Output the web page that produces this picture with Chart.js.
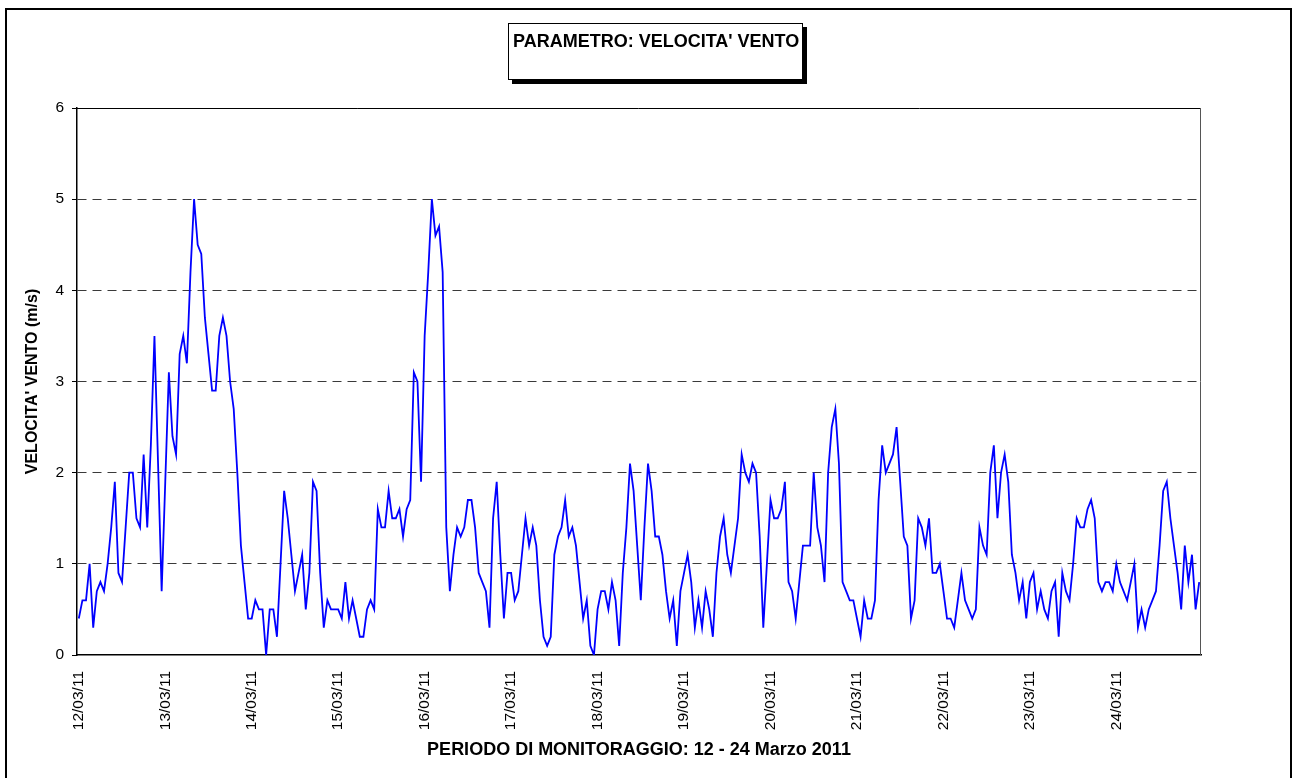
<!DOCTYPE html>
<html>
<head>
<meta charset="utf-8">
<script src="https://cdn.jsdelivr.net/npm/chart.js@4/dist/chart.umd.min.js"></script>
<style>
  html, body { margin: 0; padding: 0; background: #fff; }
  #wrap { position: relative; width: 1308px; height: 778px; overflow: hidden; }
  #frame { position: absolute; left: 5px; top: 8px; width: 1287px; height: 820px; border: 2px solid #000; box-sizing: border-box; }
  #c { position: absolute; left: 0; top: 0; }
  #titlebox { position: absolute; left: 508px; top: 23px; width: 295px; height: 57px; box-sizing: border-box;
    border: 1px solid #000; background: #fff; box-shadow: 4px 4px 0 #000;
    font: bold 18px "Liberation Sans", Arial, sans-serif; color: #000; padding: 7px 0 0 4px; white-space: nowrap; }
</style>
</head>
<body>
<div id="wrap">
  <div id="frame"></div>
  <canvas id="c" width="1308" height="778"></canvas>
  <div id="titlebox">PARAMETRO: VELOCITA' VENTO</div>
</div>
<script>
const dayLabels = ['12/03/11','13/03/11','14/03/11','15/03/11','16/03/11','17/03/11','18/03/11',
                   '19/03/11','20/03/11','21/03/11','22/03/11','23/03/11','24/03/11'];
const hours = ['00','01','02','03','04','05','06','07','08','09','10','11',
               '12','13','14','15','16','17','18','19','20','21','22','23'];
// hourly wind speed (m/s), one row per day
const windSpeed = [
  0.4,0.6,0.6,1.0,0.3,0.7,0.8,0.7,1.0,1.4,1.9,0.9,0.8,1.4,2.0,2.0,1.5,1.4,2.2,1.4,2.3,3.5,2.1,0.7,
  1.9,3.1,2.4,2.2,3.3,3.5,3.2,4.2,5.0,4.5,4.4,3.7,3.3,2.9,2.9,3.5,3.7,3.5,3.0,2.7,2.0,1.2,0.8,0.4,
  0.4,0.6,0.5,0.5,0.0,0.5,0.5,0.2,1.0,1.8,1.5,1.1,0.7,0.9,1.1,0.5,0.9,1.9,1.8,0.9,0.3,0.6,0.5,0.5,
  0.5,0.4,0.8,0.4,0.6,0.4,0.2,0.2,0.5,0.6,0.5,1.6,1.4,1.4,1.8,1.5,1.5,1.6,1.3,1.6,1.7,3.1,3.0,1.9,
  3.5,4.2,5.0,4.6,4.7,4.2,1.4,0.7,1.1,1.4,1.3,1.4,1.7,1.7,1.4,0.9,0.8,0.7,0.3,1.5,1.9,1.1,0.4,0.9,
  0.9,0.6,0.7,1.1,1.5,1.2,1.4,1.2,0.6,0.2,0.1,0.2,1.1,1.3,1.4,1.7,1.3,1.4,1.2,0.8,0.4,0.6,0.1,0.0,
  0.5,0.7,0.7,0.5,0.8,0.6,0.1,0.9,1.4,2.1,1.8,1.2,0.6,1.4,2.1,1.8,1.3,1.3,1.1,0.7,0.4,0.6,0.1,0.7,
  0.9,1.1,0.8,0.3,0.6,0.3,0.7,0.5,0.2,0.9,1.3,1.5,1.1,0.9,1.2,1.5,2.2,2.0,1.9,2.1,2.0,1.3,0.3,1.0,
  1.7,1.5,1.5,1.6,1.9,0.8,0.7,0.4,0.8,1.2,1.2,1.2,2.0,1.4,1.2,0.8,2.0,2.5,2.7,2.1,0.8,0.7,0.6,0.6,
  0.4,0.2,0.6,0.4,0.4,0.6,1.7,2.3,2.0,2.1,2.2,2.5,1.9,1.3,1.2,0.4,0.6,1.5,1.4,1.2,1.5,0.9,0.9,1.0,
  0.7,0.4,0.4,0.3,0.6,0.9,0.6,0.5,0.4,0.5,1.4,1.2,1.1,2.0,2.3,1.5,2.0,2.2,1.9,1.1,0.9,0.6,0.8,0.4,
  0.8,0.9,0.5,0.7,0.5,0.4,0.7,0.8,0.2,0.9,0.7,0.6,1.0,1.5,1.4,1.4,1.6,1.7,1.5,0.8,0.7,0.8,0.8,0.7,
  1.0,0.8,0.7,0.6,0.8,1.0,0.3,0.5,0.3,0.5,0.6,0.7,1.2,1.8,1.9,1.5,1.2,0.9,0.5,1.2,0.8,1.1,0.5,0.8
];
const yTicks = [0, 1, 2, 3, 4, 5, 6];
const chartTitle = "PARAMETRO: VELOCITA' VENTO";
const xTitle = 'PERIODO DI MONITORAGGIO: 12 - 24 Marzo 2011';
const yTitle = "VELOCITA' VENTO (m/s)";

const categories = dayLabels.flatMap(d => hours.map(h => d + ' ' + h));
const FONT = '"Liberation Sans", Arial, sans-serif';

const plotBorder = {
  id: 'plotBorder',
  afterDraw(chart) {
    const a = chart.chartArea, ctx = chart.ctx;
    ctx.save();
    ctx.strokeStyle = '#000';
    ctx.lineWidth = 1;
    ctx.beginPath();
    ctx.moveTo(a.left, a.top + 0.5);
    ctx.lineTo(a.right - 0.5, a.top + 0.5);
    ctx.stroke();
    ctx.strokeStyle = '#555';
    ctx.beginPath();
    ctx.moveTo(a.right - 0.5, a.top);
    ctx.lineTo(a.right - 0.5, a.bottom);
    ctx.stroke();
    ctx.restore();
  }
};

new Chart(document.getElementById('c'), {
  type: 'line',
  data: {
    labels: categories,
    datasets: [{
      label: chartTitle,
      data: windSpeed,
      borderColor: '#0000FF',
      borderWidth: 1.8,
      pointRadius: 0,
      tension: 0,
      fill: false
    }]
  },
  options: {
    responsive: false,
    animation: false,
    events: [],
    layout: { padding: { left: 0, right: 107, top: 108, bottom: 0 } },
    plugins: { legend: { display: false }, title: { display: false }, tooltip: { enabled: false } },
    scales: {
      x: {
        type: 'category',
        offset: true,
        afterFit: s => { s.height = 123; },
        grid: { display: false, drawTicks: false },
        border: { display: true, color: '#000', width: 1.5 },
        ticks: {
          autoSkip: false, maxRotation: 90, minRotation: 90, padding: 16,
          color: '#000', font: { family: FONT, size: 15.5 },
          callback: (v, i) => (i % 24 === 0 ? dayLabels[i / 24] : '')
        },
        title: { display: true, text: xTitle, color: '#000',
                 font: { family: FONT, size: 18, weight: 'bold' }, padding: { top: 0, bottom: 17 } }
      },
      y: {
        min: 0, max: 6,
        afterFit: s => { s.width = 77; },
        afterBuildTicks: s => { s.ticks = yTicks.map(v => ({ value: v })); },
        grid: {
          color: c => (c.tick && (c.tick.value === 0 || c.tick.value === 6)) ? 'rgba(0,0,0,0)' : '#3a3a3a',
          lineWidth: 1,
          drawTicks: true, tickLength: 5, tickColor: '#000', tickBorderDash: []
        },
        border: { display: true, color: '#000', width: 1.5, dash: [9, 6] },
        ticks: { padding: 8, color: '#000', font: { family: FONT, size: 15.5 } },
        title: { display: true, text: yTitle, color: '#000',
                 font: { family: FONT, size: 16, weight: 'bold' }, padding: { top: 23, bottom: 0 } }
      }
    }
  },
  plugins: [plotBorder]
});
</script>
</body>
</html>
